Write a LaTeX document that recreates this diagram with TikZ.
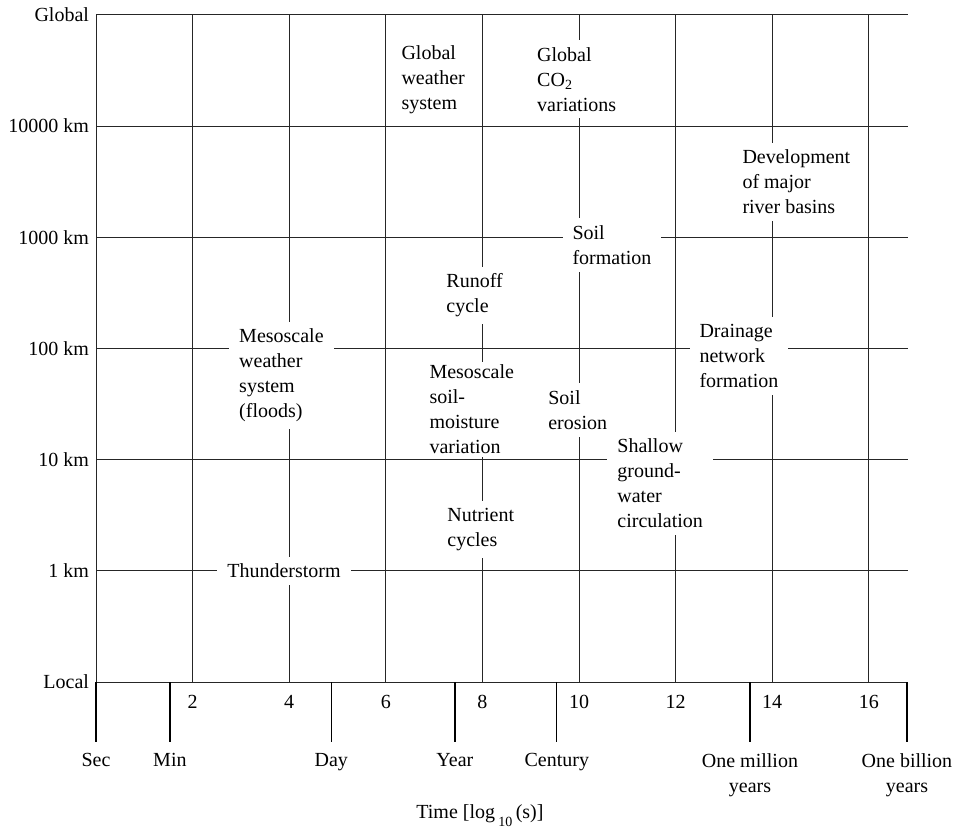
\documentclass[tikz,border=0pt]{standalone}
\usepackage{fontspec}
\setmainfont{Liberation Serif}

\begin{document}
\begin{tikzpicture}[x=24.15pt, y=55.6pt,
			gitter/.style={black!85, line width=0.5pt},
			marke/.style={black, line width=0.7pt},
			lbl/.style={fill=white, align=left, anchor=west, inner xsep=5pt, inner ysep=3.5pt},
			font=\fontsize{10}{12.5}\selectfont]
			%Bildbereich
			\useasboundingbox (-48pt,-72.5pt) rectangle (430pt,341pt);
			%Raster zeichnen
			\foreach \y in {0,...,6} \draw[gitter] (0,\y) -- (16.81,\y);
			\foreach \x in {2,4,...,16} \draw[gitter] (\x,0) -- (\x,6);
			% Achse links
			\draw[gitter] (0,6) -- (0,-0.54);
			% Achsen beschriften
			\foreach \y/\t in {0/Local,1/1 km,2/10 km,3/100 km,4/1000 km,5/10000 km,6/Global}
				\node[left] (raum\y) at (0,\y) {\t};
			\foreach \x in {2,4,...,16} \node[below=3pt] (zahl\x) at (\x,0) {\x};
			% Zeitmarken
			\foreach \x/\t [count=\i] in {0/Sec,1.53/Min,4.87/Day,7.43/Year,9.54/Century,13.54/One million\\years,16.79/One billion\\years}
				\draw[marke] (\x,0) -- (\x,-0.54) node[below=2pt, align=center] (zeit\i) {\t};
			\node[anchor=base] (titel) at (7.95,-1.223) {Time [log\,\raisebox{-4pt}{\scriptsize 10}\,(s)]};
			%Prozesse
			\node[lbl] (gwetter) at (6.11,5.42) {Global\\weather\\system};
			\node[lbl] (gco) at (8.92,5.42) {Global\\CO\textsubscript{2}\\variations};
			\node[lbl] (flussbecken) at (13.17,4.50) {Development\\of major\\river basins};
			\node[lbl] (bodenbildung) at (9.65,3.93) {Soil\\formation};
			\node[lbl] (abfluss) at (7.04,3.476) {Runoff\\cycle};
			\node[lbl] (mesowetter) at (2.75,2.756) {Mesoscale\\weather\\system\\(floods)};
			\node[lbl] (drainage) at (12.28,2.93) {Drainage\\network\\formation};
			\node[lbl, inner ysep=1.5pt] (bodenfeuchte) at (6.69,2.45) {Mesoscale\\soil-\\moisture\\variation};
			\node[lbl] (erosion) at (9.15,2.446) {Soil\\erosion};
			\node[lbl] (grundwasser) at (10.58,1.785) {Shallow\\ground-\\water\\circulation};
			\node[lbl] (naehrstoff) at (7.06,1.371) {Nutrient\\cycles};
			\node[lbl] (gewitter) at (2.505,1) {Thunderstorm};
		\end{tikzpicture}
\end{document}
